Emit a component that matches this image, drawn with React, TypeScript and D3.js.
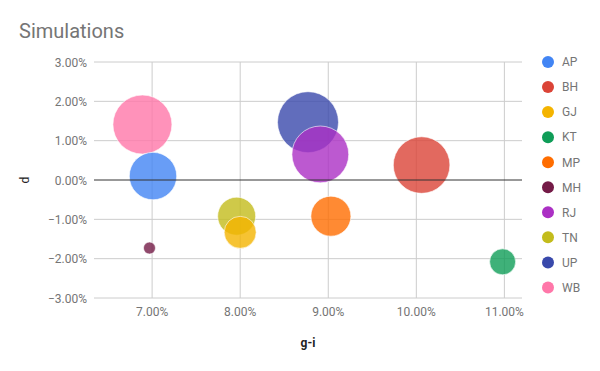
import React, { useEffect, useRef } from "react";
import * as d3 from "d3";

// series data
const states = ["AP", "BH", "GJ", "KT", "MP", "MH", "RJ", "TN", "UP", "WB"];
const giValues = [0.0701, 0.1006, 0.08, 0.1098, 0.0903, 0.0697, 0.0891, 0.0796, 0.0877, 0.0689];
const dValues = [0.001, 0.0038, -0.0133, -0.0208, -0.0092, -0.0173, 0.0065, -0.0092, 0.0147, 0.0141];
const sizes = [23.7, 28.3, 16, 13, 20, 6, 28.4, 19, 30.5, 29.5];
const colors = ["#4285f4", "#db4437", "#f4b400", "#0f9d58", "#ff6d00", "#741b47", "#ab30c4", "#c3bc1c", "#3949ab", "#ff77a9"];

const xTicks = [0.07, 0.08, 0.09, 0.1, 0.11];
const yTicks = [-0.03, -0.02, -0.01, 0, 0.01, 0.02, 0.03];

export default function App() {
  const svgRef = useRef<SVGSVGElement>(null);

  useEffect(() => {
    const svg = d3.select(svgRef.current);
    svg.selectAll("*").remove();

    const width = 600;
    const height = 371;
    const margin = { top: 62, right: 78, bottom: 73, left: 94 };
    const innerW = width - margin.left - margin.right;
    const innerH = height - margin.top - margin.bottom;
    const font = "Roboto, sans-serif";
    const fmt = d3.format(".2%");

    svg.attr("width", width).attr("height", height);

    // title
    svg
      .append("text")
      .attr("x", 19)
      .attr("y", 38)
      .attr("font-family", font)
      .attr("font-size", 20)
      .attr("fill", "#757575")
      .text("Simulations");

    const g = svg.append("g").attr("transform", `translate(${margin.left},${margin.top})`);

    const x = d3.scaleLinear().domain([0.0634, 0.112]).range([0, innerW]);
    const y = d3.scaleLinear().domain([-0.03, 0.03]).range([innerH, 0]);
    const r = d3.scaleLinear().domain(d3.extent(sizes) as [number, number]).range([6, 30.5]);

    // gridlines
    g.selectAll(".hgrid")
      .data(yTicks.filter((t) => t !== 0))
      .enter()
      .append("line")
      .attr("x1", 0)
      .attr("x2", innerW)
      .attr("y1", (d) => y(d))
      .attr("y2", (d) => y(d))
      .attr("stroke", "#cccccc");

    g.selectAll(".vgrid")
      .data(xTicks)
      .enter()
      .append("line")
      .attr("x1", (d) => x(d))
      .attr("x2", (d) => x(d))
      .attr("y1", 0)
      .attr("y2", innerH)
      .attr("stroke", "#cccccc");

    // tick labels
    g.selectAll(".ylab")
      .data(yTicks)
      .enter()
      .append("text")
      .attr("x", -7)
      .attr("y", (d) => y(d) + 4.5)
      .attr("text-anchor", "end")
      .attr("font-family", font)
      .attr("font-size", 12)
      .attr("fill", "#757575")
      .text((d) => fmt(d));

    g.selectAll(".xlab")
      .data(xTicks)
      .enter()
      .append("text")
      .attr("x", (d) => x(d))
      .attr("y", innerH + 18)
      .attr("text-anchor", "middle")
      .attr("font-family", font)
      .attr("font-size", 12)
      .attr("fill", "#757575")
      .text((d) => fmt(d));

    // bubbles, biggest first so small ones stay on top
    const points = states
      .map((s, i) => ({ s, gi: giValues[i], d: dValues[i], size: sizes[i], color: colors[i] }))
      .sort((a, b) => b.size - a.size);

    g.selectAll(".bubble")
      .data(points)
      .enter()
      .append("circle")
      .attr("cx", (p) => x(p.gi))
      .attr("cy", (p) => y(p.d))
      .attr("r", (p) => r(p.size))
      .attr("fill", (p) => p.color)
      .attr("fill-opacity", 0.8)
      .attr("stroke", "#ffffff")
      .attr("stroke-opacity", 0.6)
      .attr("stroke-width", 1);

    // zero line on top
    g.append("line")
      .attr("x1", 0)
      .attr("x2", innerW)
      .attr("y1", y(0))
      .attr("y2", y(0))
      .attr("stroke", "#333333");

    // axis titles
    svg
      .append("text")
      .attr("x", margin.left + innerW / 2)
      .attr("y", 347)
      .attr("text-anchor", "middle")
      .attr("font-family", font)
      .attr("font-size", 12)
      .attr("font-weight", "bold")
      .attr("fill", "#222222")
      .text("g-i");

    svg
      .append("text")
      .attr("transform", `translate(29,${margin.top + innerH / 2}) rotate(-90)`)
      .attr("text-anchor", "middle")
      .attr("font-family", font)
      .attr("font-size", 12)
      .attr("fill", "#222222")
      .text("d");

    // legend
    const legend = svg
      .selectAll(".legend")
      .data(states)
      .enter()
      .append("g")
      .attr("transform", (_, i) => `translate(548,${62 + i * 25.05})`);

    legend
      .append("circle")
      .attr("r", 6)
      .attr("fill", (_, i) => colors[i]);

    legend
      .append("text")
      .attr("x", 14)
      .attr("y", 4.3)
      .attr("font-family", font)
      .attr("font-size", 12)
      .attr("fill", "#757575")
      .text((s) => s);
  }, []);

  return (
    <div style={{ position: "absolute", left: 0, top: 0 }}>
      <svg ref={svgRef} />
    </div>
  );
}
